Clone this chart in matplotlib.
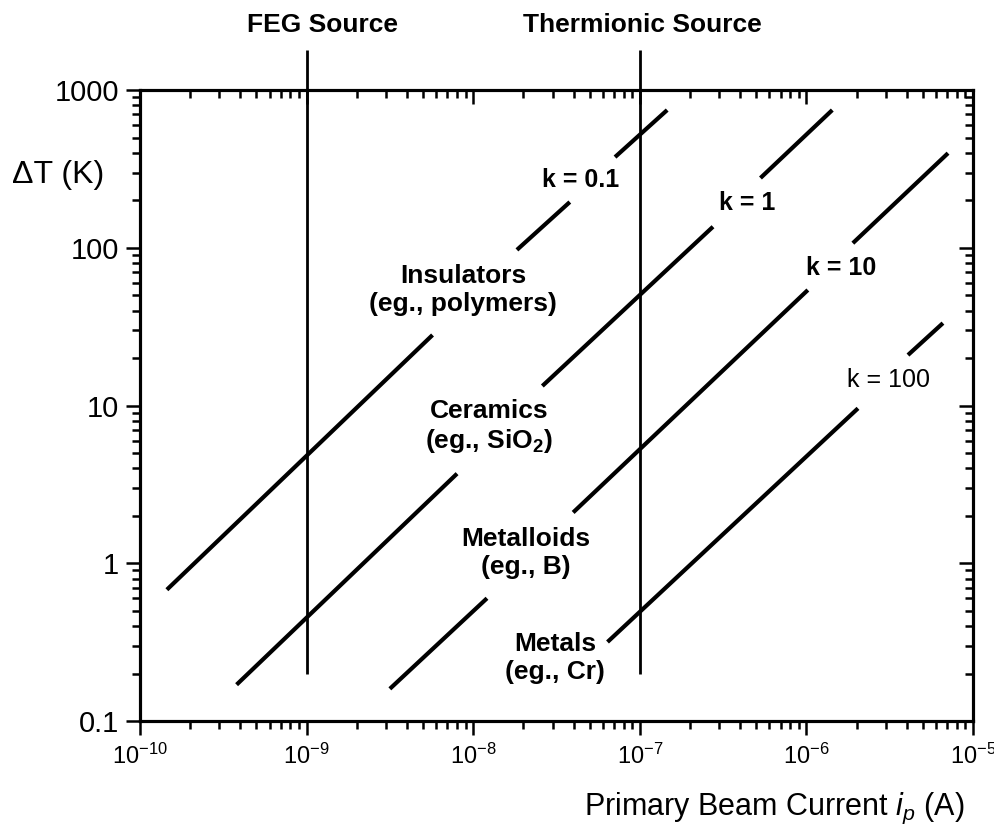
import matplotlib.pyplot as plt
from matplotlib.ticker import FixedLocator, FixedFormatter, NullFormatter

plt.rcParams['font.family'] = ['Liberation Sans', 'DejaVu Sans']
plt.rcParams['mathtext.fontset'] = 'custom'
plt.rcParams['mathtext.rm'] = 'Liberation Sans'
plt.rcParams['mathtext.it'] = 'Liberation Sans:italic'
plt.rcParams['mathtext.bf'] = 'Liberation Sans:bold'

# axis ticks
x_ticks = [1e-10, 1e-9, 1e-8, 1e-7, 1e-6, 1e-5]
x_labels = [r'$10^{-10}$', r'$10^{-9}$', r'$10^{-8}$', r'$10^{-7}$', r'$10^{-6}$', r'$10^{-5}$']
y_ticks = [0.1, 1, 10, 100, 1000]
y_labels = ['0.1', '1', '10', '100', '1000']

# electron sources (vertical markers)
source_names = ['FEG Source', 'Thermionic Source']
source_current = [1e-9, 1e-7]
source_dT = [0.2, 1800]

# temperature rise lines per thermal conductivity k, broken where labels sit
# each entry: list of segments [(i0, i1), (dT0, dT1)]
k_names = ['k = 0.1', 'k = 1', 'k = 10', 'k = 100']
k01_i = [(1.45e-10, 5.7e-9), (1.83e-8, 3.8e-8), (7.1e-8, 1.46e-7)]
k01_dT = [(0.68, 28), (97, 195), (376, 747)]
k1_i = [(3.8e-10, 8e-9), (2.6e-8, 2.75e-7), (5.3e-7, 1.43e-6)]
k1_dT = [(0.17, 3.7), (13.3, 136), (277, 747)]
k10_i = [(3.16e-9, 1.21e-8), (3.98e-8, 1.02e-6), (1.9e-6, 7.08e-6)]
k10_dT = [(0.16, 0.6), (2.1, 54), (107, 398)]
k100_i = [(6.4e-8, 2.04e-6), (4.07e-6, 6.6e-6)]
k100_dT = [(0.317, 9.6), (20.9, 33.3)]

fig = plt.figure(figsize=(9.95, 8.3), dpi=100)
ax = fig.add_axes([0.1407, 0.1313, 0.8372, 0.7602])
ax.set_xscale('log')
ax.set_yscale('log')
ax.set_xlim(1e-10, 1e-5)
ax.set_ylim(0.1, 1000)

# diagonal lines
for seg_i, seg_dT in [(k01_i, k01_dT), (k1_i, k1_dT), (k10_i, k10_dT), (k100_i, k100_dT)]:
    for xi, yi in zip(seg_i, seg_dT):
        ax.plot(xi, yi, color='black', lw=3.0, solid_capstyle='butt')

# source lines, running above the frame
for xs in source_current:
    ax.plot([xs, xs], source_dT, color='black', lw=2.0, clip_on=False, solid_capstyle='butt')

# ticks: outward on bottom/left
ax.xaxis.set_major_locator(FixedLocator(x_ticks))
ax.xaxis.set_major_formatter(FixedFormatter(x_labels))
ax.xaxis.set_minor_formatter(NullFormatter())
ax.yaxis.set_major_locator(FixedLocator(y_ticks))
ax.yaxis.set_major_formatter(FixedFormatter(y_labels))
ax.yaxis.set_minor_formatter(NullFormatter())
ax.tick_params(which='both', direction='out', width=1.8, top=False, right=False)
ax.tick_params(which='major', length=10)
ax.tick_params(which='minor', length=5.5)
ax.tick_params(axis='x', labelsize=17, pad=6)
ax.tick_params(axis='y', labelsize=21, pad=5)
for sp in ax.spines.values():
    sp.set_linewidth(2.2)

# inward ticks on top/right
axt = ax.twiny()
axt.set_xscale('log')
axt.set_xlim(ax.get_xlim())
axt.xaxis.set_major_locator(FixedLocator(x_ticks))
axt.tick_params(which='both', direction='in', width=1.8, labeltop=False)
axt.tick_params(which='major', length=10)
axt.tick_params(which='minor', length=5.5)
axr = ax.twinx()
axr.set_yscale('log')
axr.set_ylim(ax.get_ylim())
axr.yaxis.set_major_locator(FixedLocator(y_ticks))
axr.yaxis.set_minor_formatter(NullFormatter())
axr.tick_params(which='both', direction='in', width=1.8, labelright=False)
axr.tick_params(which='major', length=10)
axr.tick_params(which='minor', length=5.5)
for a in (axt, axr):
    for sp in a.spines.values():
        sp.set_linewidth(2.2)

# source names above the frame
ax.text(1.24e-9, 2580, source_names[0], ha='center', va='center', fontsize=19, fontweight='bold', clip_on=False)
ax.text(1.04e-7, 2580, source_names[1], ha='center', va='center', fontsize=19, fontweight='bold', clip_on=False)

# material labels
ax.text(8.7e-9, 54, 'Insulators\n(eg., polymers)', ha='center', va='center', fontsize=19, fontweight='bold')
ax.text(1.24e-8, 7.3, 'Ceramics\n(eg., SiO$_\\mathbf{2}$)', ha='center', va='center', fontsize=19, fontweight='bold')
ax.text(2.07e-8, 1.16, 'Metalloids\n(eg., B)', ha='center', va='center', fontsize=19, fontweight='bold')
ax.text(3.1e-8, 0.25, 'Metals\n(eg., Cr)', ha='center', va='center', fontsize=19, fontweight='bold')

# k labels
ax.text(4.44e-8, 269, k_names[0], ha='center', va='center', fontsize=18, fontweight='bold')
ax.text(4.4e-7, 192, k_names[1], ha='center', va='center', fontsize=18, fontweight='bold')
ax.text(1.61e-6, 75, k_names[2], ha='center', va='center', fontsize=18, fontweight='bold')
ax.text(3.13e-6, 14.5, k_names[3], ha='center', va='center', fontsize=18)

# axis titles
ax.text(-0.098, 0.865, '\u0394T (K)', transform=ax.transAxes, ha='center', va='center', fontsize=23)
ax.text(0.99, -0.138, 'Primary Beam Current $i_p$ (A)', transform=ax.transAxes,
        ha='right', va='center', fontsize=22)

fig.savefig('out.png', dpi=100)
